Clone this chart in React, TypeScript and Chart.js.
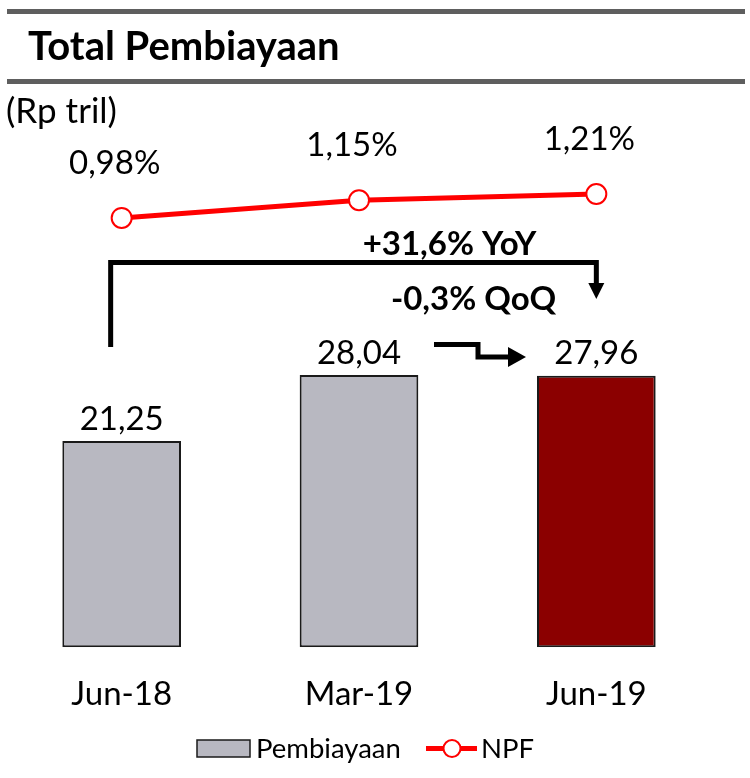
import { useEffect, useRef } from "react";
import { Chart, registerables } from "chart.js";

Chart.register(...registerables);

const categories = ["Jun-18", "Mar-19", "Jun-19"];
const pembiayaan = [21.25, 28.04, 27.96];
const npf = [0.98, 1.15, 1.21];
const titleText = "Total Pembiayaan";
const unitText = "(Rp tril)";
const yoyText = "+31,6% YoY";
const qoqText = "-0,3% QoQ";

const FONT = "Lato, 'Open Sans', sans-serif";
const BAR_GRAY = "#b8b8c1";
const BAR_RED = "#8b0000";
const NPF_RED = "#ff0000";

const fmt = (v: number) => v.toFixed(2).replace(".", ",");

const decorPlugin = {
  id: "decor",
  beforeDraw(chart: any) {
    const ctx = chart.ctx as CanvasRenderingContext2D;
    ctx.save();
    ctx.fillStyle = "#ffffff";
    ctx.fillRect(0, 0, chart.width, chart.height);
    ctx.fillStyle = "#5e5e5e";
    ctx.fillRect(7, 9, 738, 5);
    ctx.fillRect(7, 79, 738, 5);
    ctx.fillStyle = "#000";
    ctx.textAlign = "left";
    ctx.textBaseline = "alphabetic";
    ctx.font = `bold 40px ${FONT}`;
    ctx.fillText(titleText, 28, 60);
    ctx.font = `35px ${FONT}`;
    ctx.textBaseline = "middle";
    ctx.fillText(unitText, 6, 112);
    ctx.restore();
  },
  afterDatasetsDraw(chart: any) {
    const ctx = chart.ctx as CanvasRenderingContext2D;
    const bars = chart.getDatasetMeta(0).data;
    const pts = chart.getDatasetMeta(1).data;
    ctx.save();
    ctx.fillStyle = "#000";
    ctx.textAlign = "center";
    ctx.textBaseline = "middle";
    ctx.font = `33px ${FONT}`;
    bars.forEach((el: any, i: number) => {
      ctx.fillText(fmt(pembiayaan[i]), el.x, el.y - 22);
    });
    pts.forEach((el: any, i: number) => {
      ctx.fillText(fmt(npf[i]) + "%", el.x - 7, el.y - 55);
    });

    // YoY bracket
    const x0 = bars[0].x - 11;
    const x2 = bars[2].x;
    const x1 = bars[1].x;
    ctx.strokeStyle = "#000";
    ctx.fillStyle = "#000";
    ctx.lineWidth = 5;
    ctx.lineJoin = "miter";
    ctx.beginPath();
    ctx.moveTo(x0, 347);
    ctx.lineTo(x0, 262.5);
    ctx.lineTo(x2, 262.5);
    ctx.lineTo(x2, 284);
    ctx.stroke();
    ctx.beginPath();
    ctx.moveTo(x2 - 8, 283);
    ctx.lineTo(x2 + 8, 283);
    ctx.lineTo(x2, 299);
    ctx.closePath();
    ctx.fill();

    // QoQ arrow
    const qx = x1 + 75;
    ctx.beginPath();
    ctx.moveTo(qx, 344.5);
    ctx.lineTo(qx + 44, 344.5);
    ctx.lineTo(qx + 44, 357);
    ctx.lineTo(qx + 76, 357);
    ctx.stroke();
    ctx.beginPath();
    ctx.moveTo(qx + 74, 347);
    ctx.lineTo(qx + 92, 357);
    ctx.lineTo(qx + 74, 367);
    ctx.closePath();
    ctx.fill();

    ctx.font = `bold 33px ${FONT}`;
    ctx.fillText(yoyText, 449.5, 244);
    ctx.fillText(qoqText, 473.5, 299);

    // Legend
    const ds = chart.data.datasets;
    ctx.lineWidth = 1.5;
    ctx.fillStyle = BAR_GRAY;
    ctx.strokeStyle = "#1a1a1a";
    ctx.fillRect(197, 740, 53, 17);
    ctx.strokeRect(197, 740, 53, 17);
    ctx.fillStyle = "#000";
    ctx.textAlign = "left";
    ctx.font = `27.5px ${FONT}`;
    ctx.fillText(ds[0].label, 256, 749);
    ctx.strokeStyle = NPF_RED;
    ctx.lineWidth = 5;
    ctx.beginPath();
    ctx.moveTo(426, 748.5);
    ctx.lineTo(477, 748.5);
    ctx.stroke();
    ctx.beginPath();
    ctx.arc(452, 748.5, 8.5, 0, Math.PI * 2);
    ctx.fillStyle = "#fff";
    ctx.fill();
    ctx.lineWidth = 2;
    ctx.stroke();
    ctx.fillStyle = "#000";
    ctx.fillText(ds[1].label, 481, 749);
    ctx.restore();
  },
};

export default function App() {
  const ref = useRef<HTMLCanvasElement | null>(null);
  useEffect(() => {
    if (!ref.current) return;
    const chart = new Chart(ref.current, {
      type: "bar",
      data: {
        labels: categories,
        datasets: [
          {
            type: "bar",
            label: "Pembiayaan",
            data: pembiayaan,
            backgroundColor: [BAR_GRAY, BAR_GRAY, BAR_RED],
            borderColor: "#1a1a1a",
            borderWidth: 2,
            borderSkipped: false,
            categoryPercentage: 1,
            barPercentage: 0.5,
            yAxisID: "y",
            order: 2,
          },
          {
            type: "line",
            label: "NPF",
            data: npf,
            borderColor: NPF_RED,
            borderWidth: 5,
            pointRadius: 10,
            pointBackgroundColor: "#ffffff",
            pointBorderColor: NPF_RED,
            pointBorderWidth: 2,
            tension: 0,
            yAxisID: "y2",
            order: 1,
          } as any,
        ],
      },
      options: {
        responsive: false,
        animation: false,
        devicePixelRatio: 1,
        layout: { autoPadding: false, padding: { left: 3, right: 35, top: 90, bottom: 0 } },
        plugins: { legend: { display: false }, tooltip: { enabled: false }, title: { display: false } },
        scales: {
          x: {
            grid: { display: false, drawTicks: false },
            border: { display: false },
            ticks: { color: "#000", font: { family: FONT, size: 33 }, padding: 27, maxRotation: 0, minRotation: 0 },
            afterFit: (s: any) => {
              s.height = 130.7;
              s.paddingLeft = 0;
              s.paddingRight = 0;
            },
          },
          y: { display: false, min: 0, max: 57.4 },
          y2: { display: false, min: -3.136, max: 2.207 },
        },
      } as any,
      plugins: [decorPlugin],
    });
    return () => chart.destroy();
  }, []);
  return (
    <div style={{ position: "absolute", left: 0, top: 0, width: 750, height: 778 }}>
      <canvas ref={ref} width={750} height={778} style={{ display: "block" }} />
    </div>
  );
}
